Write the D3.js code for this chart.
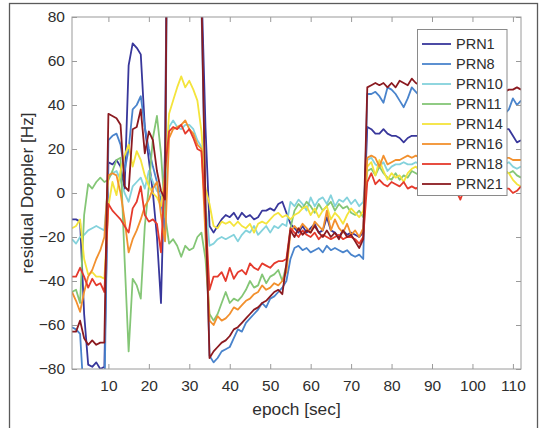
<!DOCTYPE html>
<html>
<head>
<meta charset="utf-8">
<script src="https://cdn.jsdelivr.net/npm/d3@7/dist/d3.min.js"></script>
<style>
  body { margin: 0; background: #fff; }
  svg { display: block; }
  text { font-family: "Liberation Sans", Arial, Helvetica, sans-serif; }
</style>
</head>
<body>
<svg id="chart" width="548" height="428"></svg>
<script>
// ---------------- DATA ----------------
const epochs = d3.range(1, 113); // epoch index 1..112 (sec)

const seriesNames = ["PRN1", "PRN8", "PRN10", "PRN11", "PRN14", "PRN16", "PRN18", "PRN21"];
const seriesColors = ["#38379b", "#4a84cc", "#84d2dc", "#84c676", "#f4e43c", "#f2902e", "#e53a2c", "#8b1a20"];

const prn1 = [
  -12, -12, -13, -55, -78, -79, -77, -80, -79, 14,
  13, 15, 12, 2, 58, 68, 66, 63, 30, 15,
  0, -20, -50, 20, 230, 240, 250, 245, 240, 235,
  240, 230, 95, 30, -15, -18, -15, -12, -10, -11,
  -9, -12, -9, -11, -10, -12, -11, -8, -8, -7,
  -8, -5, -4, -9, -14, -16, -18, -15, -18, -16,
  -14, -18, -17, -11, -17, -18, -20, -17, -19, -18,
  -19, -20, -18, 30, 29, 27, 27, 29, 27, 26,
  26, 25, 23, 25, 26, 26, 26, 27, 25, 24,
  26, 28, 27, 25, 26, 27, 25, 26, 28, 27,
  26, 28, 29, 27, 28, 30, 28, 29, 29, 26,
  23, 24
];
const prn8 = [
  -61, -62, -64, -95, -100, -100, -98, -100, -95, 24,
  26, 27, 22, 10, 20, 38, 40, 44, 30, 20,
  12, 5, -3, -18, 250, 255, 260, 250, 245, 250,
  240, 235, 85, -5, -74, -77, -75, -72, -71, -70,
  -66, -62, -63, -59, -57, -55, -53, -50, -52, -48,
  -47, -45, -43, -40, -30, -25, -24, -26, -25, -27,
  -26, -25, -27, -24, -26, -25, -26, -27, -26, -28,
  -29, -28, -30, 45, 45, 46, 44, 41, 48, 47,
  45, 42, 39, 43, 48, 46, 44, 45, 47, 43,
  40, 42, 45, 46, 44, 43, 41, 44, 46, 45,
  42, 43, 44, 40, 41, 43, 38, 36, 38, 43,
  40, 42
];
const prn10 = [
  -21, -23, -20, -19, -17, -16, -15, -16, -17, 7,
  9, 10, 6, 0, -4, 3, 5, 7, 2, 10,
  5, 1, -1, -3, 30, 33, 30, 29, 31, 31,
  29, 24, 21, -5, -24, -23, -21, -20, -21, -20,
  -19, -22, -19, -17, -18, -15, -19, -17, -15, -18,
  -15, -16, -14, -15, -4, -6, -3, -5, -8, -2,
  -6, -3, -2, -5, -1, -6, -3, -4, -2, -5,
  -3, -6, -4, 15, 16, 13, 12, 14, 10, 12,
  13, 13, 14, 13, 13, 14, 13, 12, 14, 15,
  13, 12, 14, 13, 12, 15, 14, 13, 12, 14,
  13, 15, 14, 12, 13, 14, 15, 13, 14, 12,
  11, 12
];
const prn11 = [
  -45, -44, -50, -10, 4, 2, 5, 7, 5, 6,
  10, 15, 16, -30, -72, -39, -42, -48, -15, 3,
  25, 35, 18, -10, -23, -21, -24, -29, -24, -26,
  -25, -20, -18, -30, -55, -58, -55, -50, -45, -50,
  -48, -49, -47, -44, -40, -43, -42, -37, -41, -38,
  -37, -35, -40, -33, -16, -8, -5, -7, -4, -6,
  -9, -5, -8, -6, -4, -8, -5, -7, -6, -9,
  -10, -8, -11, 10, 11, 8, 12, 9, 7, 6,
  9, 6, 8, 7, 10, 9, 8, 10, 9, 7,
  8, 11, 9, 8, 10, 9, 7, 8, 10, 9,
  8, 11, 10, 9, 8, 10, 9, 10, 9, 10,
  8, 7
];
const prn14 = [
  -16, -15, -12, -30, -37, -36, -38, -38, -39, -6,
  5, -1, 10, 17, 22, 12, 19, 15, 8, 3,
  0, -2, -6, 8, 36, 42, 48, 53, 48, 51,
  47, 42, 28, 2, -5, -15, -16, -13, -14, -13,
  -15, -13, -15, -16, -14, -18, -14, -13, -14, -12,
  -10, -9, -11, -10, -12, -10, -9, -7, -6, -10,
  -7, -11, -8, -6, -12, -9, -11, -14, -10, -7,
  -9, -11, -8, 12, 14, 8, 15, 10, 6, 9,
  7, 8, 5, 9, 11, 12, 10, 9, 11, 8,
  9, 12, 10, 9, 8, 11, 10, 9, 12, 11,
  10, 9, 11, 12, 10, 11, 12, 10, 9, 6,
  4, 3
];
const prn16 = [
  -45, -49, -54, -45, -38, -35, -30, -26, -20, 8,
  9, 8, 0, -12, -27, -21, -17, -12, -6, -3,
  2, 5, -10, -22, 25, 29, 30, 31, 33, 29,
  27, 22, 20, -20, -58, -60, -56, -58, -57, -55,
  -52, -53, -51, -49, -48, -46, -45, -42, -44, -43,
  -41, -42, -40, -36, -18, -15, -17, -14, -16, -18,
  -13, -15, -17, -8, -17, -12, -16, -18, -14, -19,
  -17, -20, -16, 16, 17, 16, 12, 17, 13, 14,
  15, 15, 16, 17, 16, 17, 16, 17, 15, 16,
  17, 16, 15, 17, 16, 15, 16, 17, 16, 15,
  17, 16, 15, 16, 17, 16, 15, 16, 16, 15,
  15, 15
];
const prn18 = [
  -38, -38, -34, -38, -43, -39, -42, -41, -45, -5,
  -8, -10, -12, -15, -18, -7, -4, 3, -10, -13,
  -12, -14, -27, 10, 28, 30, 29, 31, 27, 29,
  25, 20, 19, -10, -44, -38, -38, -36, -40, -34,
  -39, -36, -35, -37, -32, -34, -35, -32, -33, -34,
  -32, -31, -31, -30, -16, -18, -20, -17, -19, -20,
  -18, -21, -19, -20, -21, -20, -19, -21, -20, -20,
  -21, -23, -20, 5, 9, 4, 6, 4, 3, 5,
  4, 3, 5, 2, 3, 2, 3, 2, 4, 3,
  2, 1, 3, 2, 1, 1, -3, 2, 3, 1,
  2, 3, 1, 2, 3, 2, 1, 2, 2, 0,
  1, 3
];
const prn21 = [
  -63, -63, -58, -66, -69, -67, -69, -68, -68, 36,
  35, 34, 31, 3, 1, 29, 30, 38, 18, 28,
  24, 10, 1, -3, 250, 265, 270, 260, 270, 260,
  255, 245, 90, -5, -75, -72, -70, -68, -67, -65,
  -62, -61, -59, -57, -55, -53, -52, -50, -49, -47,
  -45, -44, -46, -32, -17, -20, -16, -19, -17, -18,
  -15, -18, -20, -17, -20, -18, -21, -17, -20, -19,
  -22, -25, -21, 48, 49, 50, 49, 50, 48, 50,
  48, 51, 50, 49, 52, 50, 49, 50, 48, 49,
  51, 50, 48, 49, 50, 48, 47, 49, 50, 48,
  47, 49, 48, 47, 46, 48, 47, 46, 47, 47,
  48, 47
];

const xTicks = [10, 20, 30, 40, 50, 60, 70, 80, 90, 100, 110];
const yTicks = [-80, -60, -40, -20, 0, 20, 40, 60, 80];
const xLabel = "epoch [sec]";
const yLabel = "residual Doppler [Hz]";

const seriesValues = [prn1, prn8, prn10, prn11, prn14, prn16, prn18, prn21];

// ---------------- DRAW ----------------
const svg = d3.select("#chart");
const L = 72, R = 521, T = 17, B = 369;
const axisColor = "#9a9a9a";
const textColor = "#2e2e2e";

// outer figure frame
svg.append("rect")
  .attr("x", 9.5).attr("y", 3.5).attr("width", 528).attr("height", 500)
  .attr("fill", "#fff").attr("stroke", "#5a5a5a").attr("stroke-width", 1.3);

svg.append("rect")
  .attr("x", L).attr("y", T).attr("width", R - L).attr("height", B - T)
  .attr("fill", "#fff");

const x = d3.scaleLinear().domain([1, 112]).range([L, R]);
const y = d3.scaleLinear().domain([-80, 80]).range([B, T]);

svg.append("clipPath").attr("id", "plotclip")
  .append("rect").attr("x", L).attr("y", T).attr("width", R - L).attr("height", B - T);

const line = d3.line()
  .x((d, i) => x(epochs[i]))
  .y(d => y(d));

const gLines = svg.append("g").attr("clip-path", "url(#plotclip)");
seriesValues.forEach((vals, k) => {
  gLines.append("path")
    .datum(vals)
    .attr("d", line)
    .attr("fill", "none")
    .attr("stroke", seriesColors[k])
    .attr("stroke-width", 1.8)
    .attr("stroke-linejoin", "round");
});

// axes
function styleAxis(g) {
  g.select(".domain").remove();
  g.selectAll(".tick line").attr("stroke", axisColor).attr("stroke-width", 1);
  g.selectAll(".tick text").attr("fill", textColor)
    .style("font-size", "15.5px")
    .style("font-family", '"Liberation Sans", Arial, Helvetica, sans-serif');
}

svg.append("g").attr("transform", `translate(0,${B})`)
  .call(d3.axisBottom(x).tickValues(xTicks).tickSizeInner(-5).tickSizeOuter(0).tickPadding(11))
  .call(styleAxis);
svg.append("g").attr("transform", `translate(0,${T})`)
  .call(d3.axisTop(x).tickValues(xTicks).tickSizeInner(-5).tickSizeOuter(0).tickFormat(""))
  .call(styleAxis);
svg.append("g").attr("transform", `translate(${L},0)`)
  .call(d3.axisLeft(y).tickValues(yTicks).tickSizeInner(-5).tickSizeOuter(0).tickPadding(7))
  .call(styleAxis);
svg.append("g").attr("transform", `translate(${R},0)`)
  .call(d3.axisRight(y).tickValues(yTicks).tickSizeInner(-5).tickSizeOuter(0).tickFormat(""))
  .call(styleAxis);

// axes box
svg.append("rect")
  .attr("x", L).attr("y", T).attr("width", R - L).attr("height", B - T)
  .attr("fill", "none").attr("stroke", axisColor).attr("stroke-width", 1);

// axis labels
svg.append("text")
  .attr("x", (L + R) / 2).attr("y", 414.5)
  .attr("text-anchor", "middle")
  .attr("fill", textColor)
  .style("font-size", "17.3px")
  .text(xLabel);

svg.append("text")
  .attr("transform", `translate(33,${(T + B) / 2}) rotate(-90)`)
  .attr("text-anchor", "middle")
  .attr("fill", textColor)
  .style("font-size", "17.3px")
  .text(yLabel);

// legend
const lg = svg.append("g");
lg.append("rect")
  .attr("x", 417.5).attr("y", 29.5).attr("width", 89.5).attr("height", 166)
  .attr("fill", "#fff").attr("stroke", "#8a8a8a").attr("stroke-width", 1);
seriesNames.forEach((name, k) => {
  const cy = 44 + k * 20;
  lg.append("line")
    .attr("x1", 422).attr("x2", 451).attr("y1", cy).attr("y2", cy)
    .attr("stroke", seriesColors[k]).attr("stroke-width", 1.8);
  lg.append("text")
    .attr("x", 456).attr("y", cy).attr("dy", "0.36em")
    .attr("fill", textColor)
    .style("font-size", "14.5px")
    .text(name);
});
</script>
</body>
</html>
